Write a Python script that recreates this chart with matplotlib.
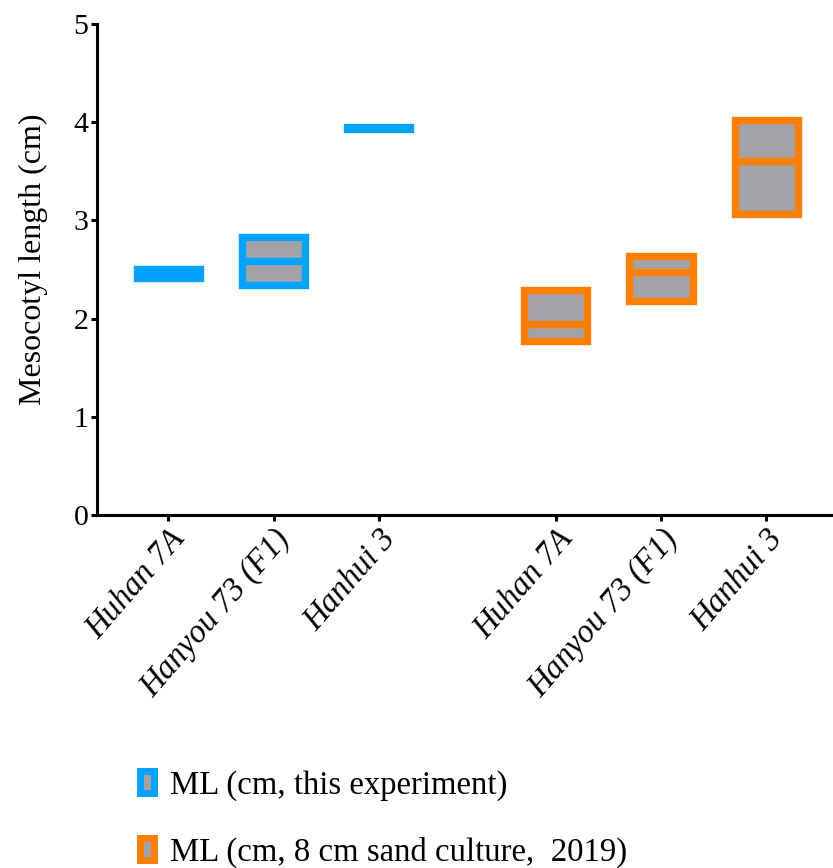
import matplotlib
matplotlib.use("Agg")
import matplotlib.pyplot as plt
from matplotlib.patches import Rectangle, Patch
import matplotlib.transforms as mtransforms

# Mesocotyl length ranges (min / median / max, cm) per cultivar
cultivars = ["Huhan 7A", "Hanyou 73 (F1)", "Hanhui 3"]
ml_this_min = [2.41, 2.34, 3.93]
ml_this_med = [2.45, 2.59, 3.94]
ml_this_max = [2.50, 2.83, 3.95]
ml_2019_min = [1.77, 2.18, 3.06]
ml_2019_med = [1.94, 2.47, 3.60]
ml_2019_max = [2.29, 2.64, 4.02]
series_labels = ["ML (cm, this experiment)", "ML (cm, 8 cm sand culture,  2019)"]

blue = "#00A2FF"
orange = "#FF8000"
gray = "#A3A2A6"

plt.rcParams["font.family"] = ["Liberation Serif", "DejaVu Serif"]
plt.rcParams["font.size"] = 21.5

fig = plt.figure(figsize=(8.33, 8.68), dpi=100)
ax = fig.add_axes([0.1168, 0.4067, 0.8832, 0.5657])

pos_this = [0, 1, 2]
pos_2019 = [3.68, 4.68, 5.68]
w = 0.6
lw = 5.3


def draw_boxes(positions, lo, med, hi, color):
    for x, a, m, b in zip(positions, lo, med, hi):
        ax.add_patch(Rectangle((x - w / 2, a), w, b - a, facecolor=gray,
                               edgecolor=color, linewidth=lw, joinstyle="miter",
                               zorder=3))
        ax.hlines(m, x - w / 2, x + w / 2, color=color, linewidth=lw, zorder=4)


draw_boxes(pos_this, ml_this_min, ml_this_med, ml_this_max, blue)
draw_boxes(pos_2019, ml_2019_min, ml_2019_med, ml_2019_max, orange)

ax.set_xlim(-0.674, 6.313)
ax.set_ylim(0, 5)
ax.set_yticks([0, 1, 2, 3, 4, 5])
ax.set_xticks(pos_this + pos_2019)
ax.set_xticklabels(cultivars + cultivars, rotation=49, ha="right", va="top",
                   rotation_mode="anchor", fontstyle="italic", fontsize=23.5)
offset = mtransforms.ScaledTranslation(-0.09, -0.10, fig.dpi_scale_trans)
for lab in ax.get_xticklabels():
    lab.set_transform(lab.get_transform() + offset)

ax.set_ylabel("Mesocotyl length (cm)", fontsize=23)
ax.yaxis.set_label_coords(-0.067, 0.52)

for side in ["top", "right"]:
    ax.spines[side].set_visible(False)
for side in ["left", "bottom"]:
    ax.spines[side].set_linewidth(2.2)
ax.tick_params(axis="both", direction="out", length=4.5, width=2.2, pad=2)

handles = [Patch(facecolor=gray, edgecolor=blue, linewidth=5),
           Patch(facecolor=gray, edgecolor=orange, linewidth=5)]
fig.legend(handles, series_labels, loc="upper left",
           bbox_to_anchor=(0.168, 0.113), frameon=False, borderpad=0,
           borderaxespad=0, handlelength=0.43, handleheight=0.64,
           handletextpad=0.5, labelspacing=1.1, fontsize=23.6)

fig.savefig("out.png", dpi=100)
